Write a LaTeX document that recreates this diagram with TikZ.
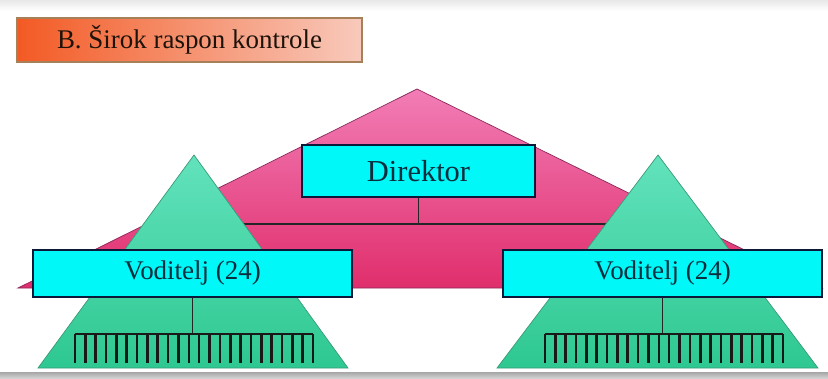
\documentclass[tikz,border=0pt]{standalone}
\usepackage{fontspec}
\setmainfont{Liberation Serif}
\usepackage{xcolor}
\usetikzlibrary{positioning}

\definecolor{pinktop}{HTML}{F27DB6}
\definecolor{pinkbot}{HTML}{E02E6C}
\definecolor{pinkedge}{HTML}{8A2A5A}
\definecolor{greentop}{HTML}{62E2BC}
\definecolor{greenbot}{HTML}{2EC891}
\definecolor{greenedge}{HTML}{3A9A78}
\definecolor{boxfill}{HTML}{00F8F8}
\definecolor{boxedge}{HTML}{0C1838}
\definecolor{boxtext}{HTML}{0A2E3E}
\definecolor{titleleft}{HTML}{F35A24}
\definecolor{titleright}{HTML}{F8CABC}

\begin{document}
\begin{tikzpicture}[x=0.03cm,y=-0.03cm,
    naslovbox/.style={draw=brown!60!gray,line width=1pt,left color=titleleft,right color=titleright,
      text=black!85!brown,font=\fontsize{23}{26}\selectfont,inner sep=0pt},
    vodjabox/.style={draw=boxedge,line width=1.6pt,fill=boxfill,text=boxtext,inner sep=0pt},
    piramida/.style={top color=greentop,bottom color=greenbot,draw=greenedge,line width=0.6pt},
    crta/.style={draw=black!85,line width=1.2pt},
    zob/.style={draw=black!90,line width=2.2pt}]
\useasboundingbox (0,0) rectangle (828,378);
% page edges
\shade[top color=gray!18,bottom color=white] (0,0) rectangle (828,11);
\shade[top color=gray!70,bottom color=gray!35] (0,372) rectangle (828,378);

% title
\node[naslovbox,minimum width=345*0.03cm,minimum height=44*0.03cm] (naslov) at (189.5,40) {B. Širok raspon kontrole};

% big pyramid
\shade[top color=pinktop,bottom color=pinkbot,draw=pinkedge,line width=0.6pt] (18,288) -- (417,89) -- (822,288) -- cycle;

\node[vodjabox,minimum width=233*0.03cm,minimum height=52*0.03cm,font=\fontsize{26}{28}\selectfont] (direktor) at (418.5,171) {Direktor};
\coordinate (vrhL) at (192.5,250);
\coordinate (vrhR) at (662.5,250);
\draw[crta] (direktor.south) -- ++(0,26) -| (vrhL);
\draw[crta] (direktor.south) ++(0,26) -| (vrhR);

% small pyramids
\shade[piramida] (38,368) -- (194,155) -- (348,368) -- cycle;
\shade[piramida] (497,368) -- (658,155) -- (818,368) -- cycle;

\node[vodjabox,minimum width=319*0.03cm,minimum height=47*0.03cm,font=\fontsize{23}{26}\selectfont] (vodL) at (192.5,273.5) {Voditelj (24)};
\node[vodjabox,minimum width=319*0.03cm,minimum height=47*0.03cm,font=\fontsize{23}{26}\selectfont] (vodR) at (662.5,273.5) {Voditelj (24)};

% 24 workers under each
\foreach \v/\xl in {vodL/75,vodR/545} {
  \draw[crta] (\v.south) -- ++(0,37);
  \draw[zob] (\xl,334) -- (\xl+238,334);
  \foreach \i in {0,...,23}
    \draw[zob] (\xl+\i*10.348,334) -- ++(0,29);
}
\end{tikzpicture}
\end{document}
